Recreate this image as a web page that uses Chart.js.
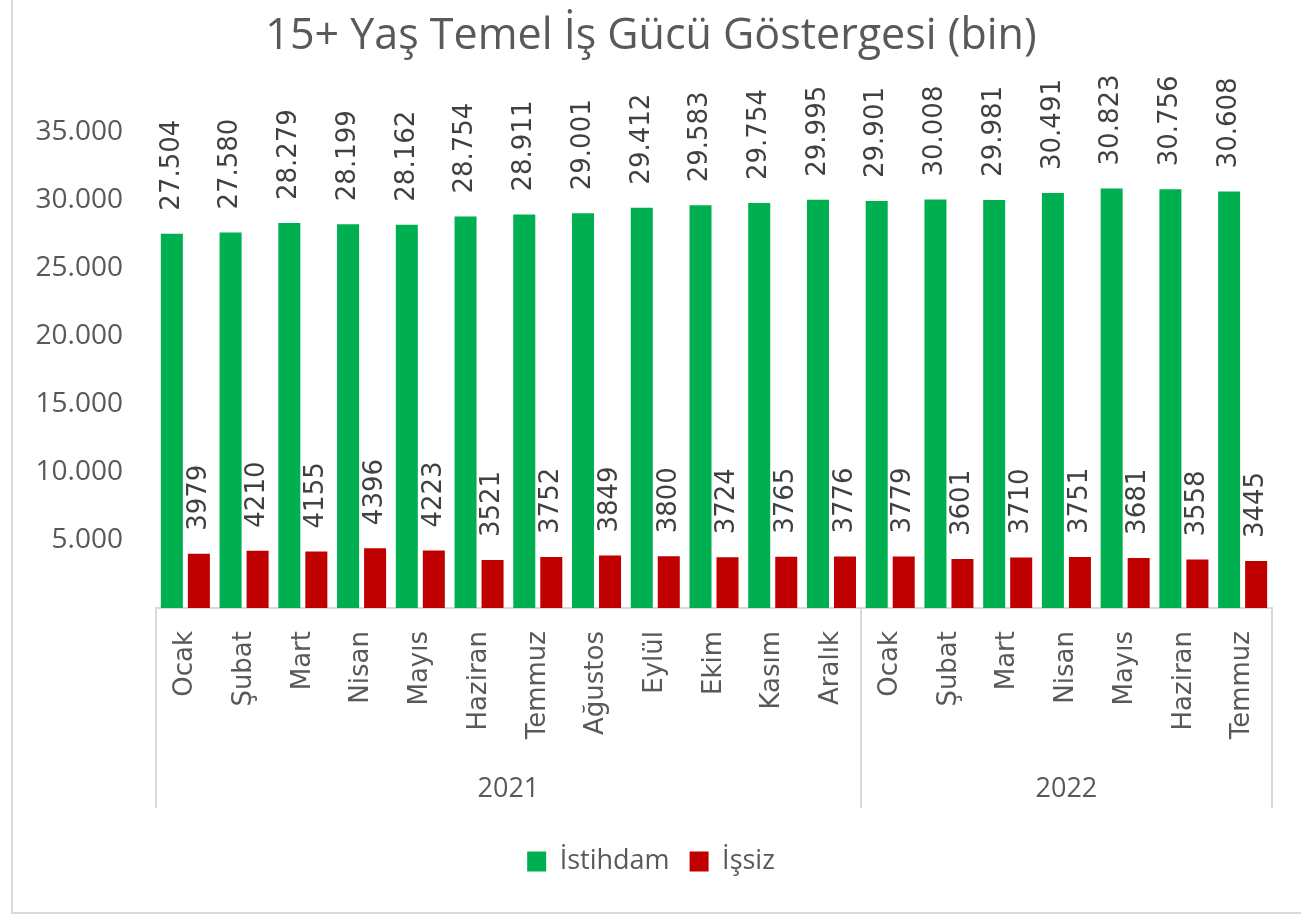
<!DOCTYPE html>
<html>
<head>
<meta charset="utf-8">
<script src="https://cdn.jsdelivr.net/npm/chart.js@4.4.1/dist/chart.umd.min.js"></script>
<style>
  html, body { margin: 0; padding: 0; background: #fff; overflow: hidden; }
  #frame { position: absolute; left: 11px; top: -10px; width: 1400px; height: 924px;
           box-sizing: border-box; border: 2px solid #d9d9d9; }
  #wrap { position: absolute; left: 0; top: 0; width: 1301px; height: 914px; }
</style>
</head>
<body>
<div id="frame"></div>
<div id="wrap"><canvas id="isgucu"></canvas></div>
<script>
var aylar = ['Ocak', 'Şubat', 'Mart', 'Nisan', 'Mayıs', 'Haziran', 'Temmuz', 'Ağustos', 'Eylül', 'Ekim', 'Kasım', 'Aralık',
             'Ocak', 'Şubat', 'Mart', 'Nisan', 'Mayıs', 'Haziran', 'Temmuz'];
var istihdam = [27504, 27580, 28279, 28199, 28162, 28754, 28911, 29001, 29412, 29583, 29754, 29995,
                29901, 30008, 29981, 30491, 30823, 30756, 30608];
var issiz = [3979, 4210, 4155, 4396, 4223, 3521, 3752, 3849, 3800, 3724, 3765, 3776,
             3779, 3601, 3710, 3751, 3681, 3558, 3445];
var yillar = ['2021', '2022'];
var yilAySayisi = [12, 7];

function noktali(n) {
    return String(n).replace(/\B(?=(\d{3})+(?!\d))/g, '.');
}

// bar value labels, rotated like the excel ones
const degerEtiketleri = {
    id: 'degerEtiketleri',
    afterDatasetsDraw(chart) {
        const ctx = chart.ctx;
        chart.data.datasets.forEach(function (ds, di) {
            const meta = chart.getDatasetMeta(di);
            meta.data.forEach(function (bar, i) {
                const txt = di === 0 ? noktali(ds.data[i]) : String(ds.data[i]);
                ctx.save();
                ctx.translate(bar.x, bar.y - 23);
                ctx.rotate(-Math.PI / 2);
                ctx.font = '26px "DejaVu Sans"';
                ctx.fillStyle = '#404040';
                ctx.textAlign = 'left';
                ctx.textBaseline = 'middle';
                ctx.fillText(txt, 0, 0);
                ctx.restore();
            });
        });
    }
};

// second level of the category axis (years)
const yilEkseni = {
    id: 'yilEkseni',
    afterDraw(chart) {
        const ctx = chart.ctx;
        const x = chart.scales.x;
        const w = x.width / aylar.length;
        const top = x.top;
        const bottom = top + 200;
        ctx.save();
        ctx.strokeStyle = '#d9d9d9';
        ctx.lineWidth = 2;
        let idx = 0;
        const edges = [0];
        yilAySayisi.forEach(function (n) { idx += n; edges.push(idx); });
        edges.forEach(function (e) {
            const px = Math.round(x.left + w * e);
            ctx.beginPath();
            ctx.moveTo(px, top);
            ctx.lineTo(px, bottom);
            ctx.stroke();
        });
        ctx.font = '27px "Open Sans"';
        ctx.fillStyle = '#595959';
        ctx.textAlign = 'center';
        ctx.textBaseline = 'middle';
        yillar.forEach(function (y, i) {
            const cx = x.left + w * (edges[i] + edges[i + 1]) / 2;
            ctx.fillText(y, cx, top + 181);
        });
        ctx.restore();
    }
};

const dataIsgucu = {
    labels: aylar,
    datasets: [{
        label: 'İstihdam',
        backgroundColor: '#00B050',
        data: istihdam,
        categoryPercentage: 0.92,
        barPercentage: 0.815
    },
    {
        label: 'İşsiz',
        backgroundColor: '#C00000',
        data: issiz,
        categoryPercentage: 0.92,
        barPercentage: 0.815
    }]
};

const configIsgucu = {
    type: 'bar',
    data: dataIsgucu,
    plugins: [degerEtiketleri, yilEkseni],
    options: {
        responsive: true,
        maintainAspectRatio: false,
        animation: false,
        layout: {
            padding: { left: 30, right: 29, top: 0, bottom: 29 }
        },
        scales: {
            x: {
                grid: { display: false, drawTicks: false },
                border: { display: true, color: '#d9d9d9', width: 2 },
                ticks: {
                    autoSkip: false,
                    minRotation: 90,
                    maxRotation: 90,
                    padding: 23,
                    color: '#595959',
                    font: { family: 'DejaVu Sans', size: 26 }
                },
                afterFit: function (scale) { scale.height = 220; }
            },
            y: {
                min: 0,
                max: 35000,
                grid: { display: false, drawTicks: false },
                border: { display: false },
                ticks: {
                    stepSize: 5000,
                    padding: 33,
                    color: '#595959',
                    font: { family: 'Open Sans', size: 28 },
                    callback: function (v) { return v === 0 ? '' : noktali(v); }
                },
                afterFit: function (scale) { scale.width = 126; }
            }
        },
        plugins: {
            title: {
                display: true,
                text: '15+ Yaş Temel İş Gücü Göstergesi (bin)',
                color: '#595959',
                font: { family: 'Open Sans', size: 43, weight: 'normal' },
                padding: { top: 11, bottom: 69 }
            },
            legend: {
                position: 'bottom',
                labels: {
                    color: '#595959',
                    font: { family: 'Open Sans', size: 27 },
                    boxWidth: 19,
                    boxHeight: 20,
                    padding: 20
                }
            },
            tooltip: { enabled: false }
        }
    }
};

const chartIsgucu = new Chart(
    document.getElementById('isgucu'),
    configIsgucu
);
</script>
</body>
</html>
